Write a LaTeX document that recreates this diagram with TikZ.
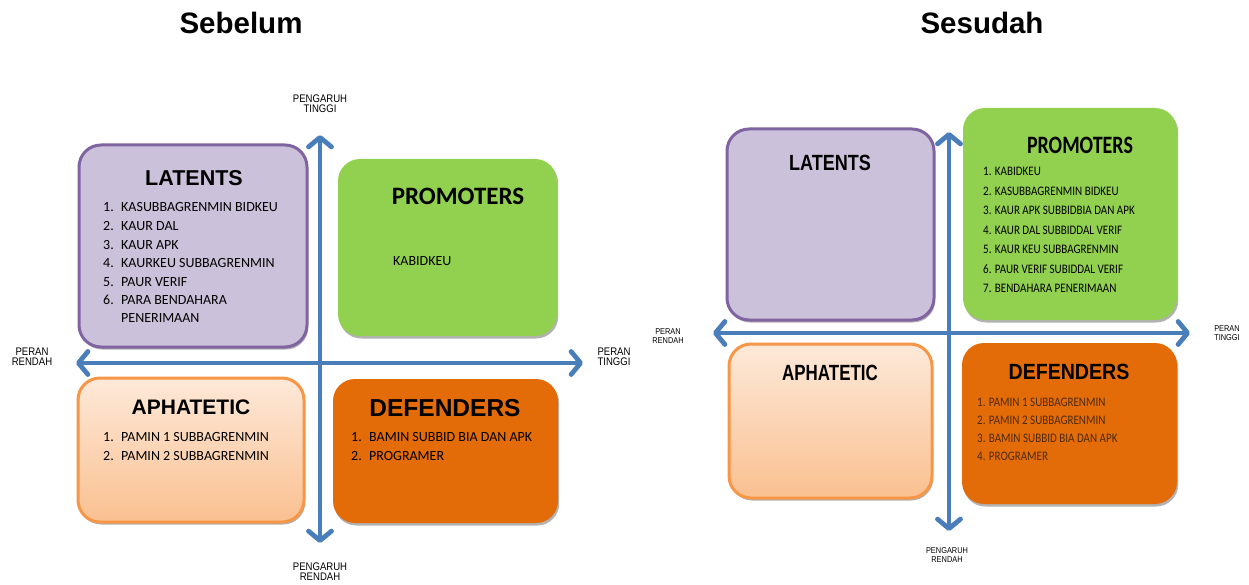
\documentclass[tikz,border=0pt]{standalone}
\usepackage{fontspec}
\usepackage{graphicx}
\setmainfont{Liberation Sans}
\newfontfamily\calfont{Carlito}
\usetikzlibrary{arrows.meta,shadows}
\definecolor{axisblue}{HTML}{4A7EBB}
\definecolor{latfill}{HTML}{CCC1DA}
\definecolor{latdraw}{HTML}{8064A2}
\definecolor{promfill}{HTML}{92D050}
\definecolor{aphdraw}{HTML}{F79646}
\definecolor{aphtop}{HTML}{FDE9D9}
\definecolor{aphbot}{HTML}{FAC090}
\definecolor{deffill}{HTML}{E36C09}
\definecolor{deftext}{HTML}{4D2A0A}
\tikzset{
  quad/.style={rounded corners=22pt, inner sep=0pt,
    drop shadow={shadow xshift=1.2pt, shadow yshift=-2.5pt, fill=black, opacity=0.3}},
  latbox/.style={quad, fill=latfill, draw=latdraw, line width=3pt},
  prombox/.style={quad, fill=promfill},
  aphbox/.style={quad, top color=aphtop, bottom color=aphbot, draw=aphdraw, line width=3pt},
  defbox/.style={quad, fill=deffill},
  axisline/.style={draw=axisblue, line width=4.3pt,
    {Straight Barb[length=9.5pt,width=23pt,round,line width=4.8pt]}-{Straight Barb[length=9.5pt,width=23pt,round,line width=4.8pt]}},
  axlabel/.style={inner sep=0pt, align=center},
  list/.style={inner sep=0pt, anchor=base west},
  ttl/.style={inner sep=0pt},
}
\newcommand{\numi}[2]{\hbox{\makebox[18pt][l]{#1}#2}}
\begin{document}
\begin{tikzpicture}[x=1pt,y=-1pt]
\useasboundingbox (0,0) rectangle (1249,585);
% titles
\node[ttl] (t1) at (241,23) {\fontsize{29.5}{32}\selectfont\bfseries Sebelum};
\node[ttl] (t2) at (982,23) {\fontsize{29.5}{32}\selectfont\bfseries Sesudah};

% ---------- left diagram ----------
\node[latbox, minimum width=228pt, minimum height=202pt] (L1) at (193,246) {};
\node[prombox, minimum width=219pt, minimum height=177pt] (P1) at (447.5,247.5) {};
\node[aphbox, minimum width=226pt, minimum height=144pt] (A1) at (191,450) {};
\node[defbox, minimum width=225pt, minimum height=144pt] (D1) at (445.5,451) {};

\node[ttl] (L1t) at (194,178) {\fontsize{21.5}{24}\selectfont\bfseries LATENTS};
\node[list] (L1l) at (103,212) {\calfont\fontsize{14}{18.5}\selectfont\vtop{\baselineskip=18.5pt
  \numi{1.}{KASUBBAGRENMIN BIDKEU}
  \numi{2.}{KAUR DAL}
  \numi{3.}{KAUR APK}
  \numi{4.}{KAURKEU SUBBAGRENMIN}
  \numi{5.}{PAUR VERIF}
  \numi{6.}{PARA BENDAHARA}
  \numi{}{PENERIMAAN}}};
\node[ttl] (P1t) at (458,196) {\calfont\fontsize{25}{28}\selectfont\bfseries PROMOTERS};
\node[list] (P1l) at (393,265.5) {\calfont\fontsize{14}{18.5}\selectfont KABIDKEU};
\node[ttl] (A1t) at (191,407) {\fontsize{21}{24}\selectfont\bfseries APHATETIC};
\node[list] (A1l) at (103,441.5) {\calfont\fontsize{14}{18.5}\selectfont\vtop{\baselineskip=18.5pt
  \numi{1.}{PAMIN 1 SUBBAGRENMIN}
  \numi{2.}{PAMIN 2 SUBBAGRENMIN}}};
\node[ttl] (D1t) at (445,408) {\fontsize{24.5}{27}\selectfont\bfseries DEFENDERS};
\node[list] (D1l) at (351,441.5) {\calfont\fontsize{14}{18.5}\selectfont\vtop{\baselineskip=18.5pt
  \numi{1.}{BAMIN SUBBID BIA DAN APK}
  \numi{2.}{PROGRAMER}}};

\coordinate (V1t) at (320,135);
\coordinate (V1b) at (320,543);
\coordinate (H1l) at (76,363);
\coordinate (H1r) at (583,363);
\draw[axisline] (V1b) -- (V1t);
\draw[axisline] (H1l) -- (H1r);

\node[axlabel] (lab1) at (320,105) {\scalebox{0.87}[1]{\fontsize{11}{11}\selectfont\begin{tabular}{@{}c@{}}PENGARUH\\[-1pt]TINGGI\end{tabular}}};
\node[axlabel] (lab2) at (320,573) {\scalebox{0.87}[1]{\fontsize{11}{11}\selectfont\begin{tabular}{@{}c@{}}PENGARUH\\[-1pt]RENDAH\end{tabular}}};
\node[axlabel] (lab3) at (32,358) {\scalebox{0.87}[1]{\fontsize{11}{11}\selectfont\begin{tabular}{@{}c@{}}PERAN\\[-1pt]RENDAH\end{tabular}}};
\node[axlabel] (lab4) at (614,358) {\scalebox{0.87}[1]{\fontsize{11}{11}\selectfont\begin{tabular}{@{}c@{}}PERAN\\[-1pt]TINGGI\end{tabular}}};

% ---------- right diagram ----------
\node[latbox, minimum width=207pt, minimum height=191pt] (L2) at (830.5,224.5) {};
\node[prombox, minimum width=214pt, minimum height=212pt] (P2) at (1070,214) {};
\node[aphbox, minimum width=203pt, minimum height=154pt] (A2) at (830.5,421) {};
\node[defbox, minimum width=215pt, minimum height=161pt] (D2) at (1069.5,423.5) {};

\node[ttl] (L2t) at (830,163) {\scalebox{0.82}[1]{\fontsize{22}{24}\selectfont\bfseries LATENTS}};
\node[ttl] (P2t) at (1080,145) {\scalebox{0.8}[1]{\calfont\fontsize{25}{28}\selectfont\bfseries PROMOTERS}};
\node[list] (P2l) at (983,176) {\scalebox{0.85}[1]{\calfont\fontsize{13}{19.5}\selectfont\vtop{\baselineskip=19.5pt
  \hbox{1. KABIDKEU}
  \hbox{2. KASUBBAGRENMIN BIDKEU}
  \hbox{3. KAUR APK SUBBIDBIA DAN APK}
  \hbox{4. KAUR DAL SUBBIDDAL VERIF}
  \hbox{5. KAUR KEU SUBBAGRENMIN}
  \hbox{6. PAUR VERIF SUBIDDAL VERIF}
  \hbox{7. BENDAHARA PENERIMAAN}}}};
\node[ttl] (A2t) at (830,373) {\scalebox{0.77}[1]{\fontsize{22}{24}\selectfont\bfseries APHATETIC}};
\node[ttl] (D2t) at (1069,372) {\scalebox{0.89}[1]{\fontsize{22}{24}\selectfont\bfseries DEFENDERS}};
\node[list, text=deftext] (D2l) at (977,406) {\scalebox{0.85}[1]{\calfont\fontsize{13}{18.3}\selectfont\vtop{\baselineskip=18.3pt
  \hbox{1. PAMIN 1 SUBBAGRENMIN}
  \hbox{2. PAMIN 2 SUBBAGRENMIN}
  \hbox{3. BAMIN SUBBID BIA DAN APK}
  \hbox{4. PROGRAMER}}}};

\coordinate (V2t) at (949,132);
\coordinate (V2b) at (949,531);
\coordinate (H2l) at (713,333);
\coordinate (H2r) at (1190,333);
\draw[axisline] (V2b) -- (V2t);
\draw[axisline] (H2l) -- (H2r);

\node[axlabel] (lab5) at (668,337) {\scalebox{0.87}[1]{\fontsize{8.5}{9}\selectfont\begin{tabular}{@{}c@{}}PERAN\\[0pt]RENDAH\end{tabular}}};
\node[axlabel] (lab6) at (1227,334) {\scalebox{0.87}[1]{\fontsize{8.5}{9}\selectfont\begin{tabular}{@{}c@{}}PERAN\\[0pt]TINGGI\end{tabular}}};
\node[axlabel] (lab7) at (947,556) {\scalebox{0.87}[1]{\fontsize{8.5}{9}\selectfont\begin{tabular}{@{}c@{}}PENGARUH\\[0pt]RENDAH\end{tabular}}};
\end{tikzpicture}
\end{document}
